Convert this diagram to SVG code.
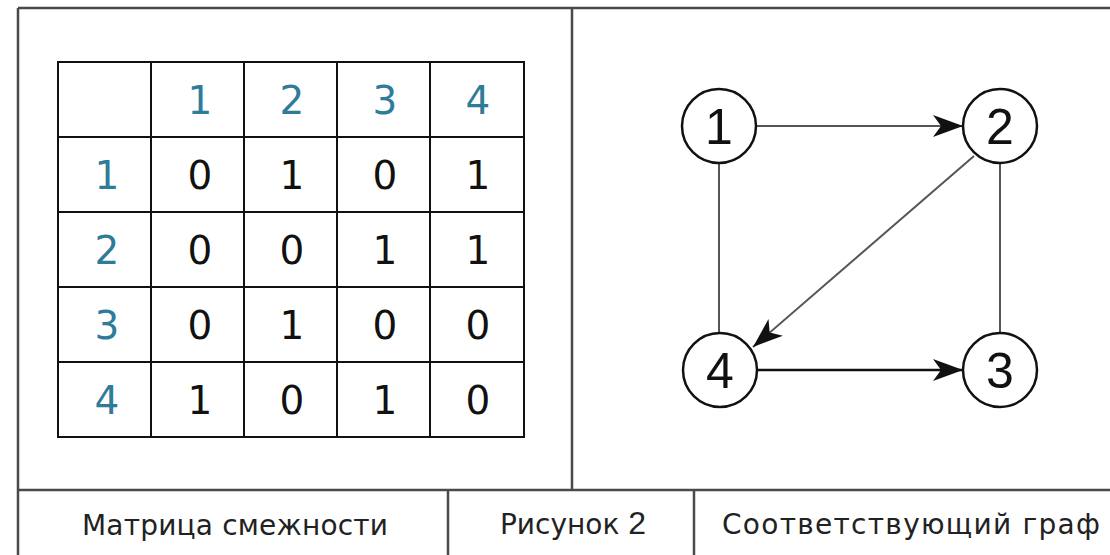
<svg xmlns="http://www.w3.org/2000/svg" width="1110" height="555" viewBox="0 0 1110 555">
  <style>
    .frame { stroke: #4a4a4a; stroke-width: 2.5; fill: none; }
    .grid { stroke: #111; stroke-width: 2; fill: none; }
    .hdr { font-family: "DejaVu Sans", sans-serif; font-size: 39px; fill: #2f7c9a; text-anchor: middle; }
    .val { font-family: "DejaVu Sans", sans-serif; font-size: 39px; fill: #111; text-anchor: middle; }
    .node circle { fill: #fff; stroke: #111; stroke-width: 2.5; }
    .node text { font-family: "Liberation Sans", Arial, sans-serif; font-size: 50px; fill: #111; text-anchor: middle; }
    .edge { stroke: #555; stroke-width: 2; fill: none; }
    .cap { font-family: "DejaVu Sans", Verdana, sans-serif; font-size: 28px; fill: #222; text-anchor: middle; }
  </style>
  <defs>
    <marker id="arrow" markerUnits="userSpaceOnUse" markerWidth="32" markerHeight="24" viewBox="0 0 32 24" refX="30" refY="12" orient="auto">
      <path d="M0,1 L30,12 L0,23 L8,12 Z" fill="#111"/>
    </marker>
  </defs>
  <rect width="1110" height="555" fill="#fff"/>

  <!-- page frame and caption row -->
  <g id="frame">
    <line class="frame" x1="18" y1="8" x2="1110" y2="8"/>
    <line class="frame" x1="18" y1="8" x2="18" y2="555"/>
    <line class="frame" x1="572" y1="8" x2="572" y2="490"/>
    <line class="frame" x1="18" y1="490" x2="1110" y2="490"/>
    <line class="frame" x1="448" y1="490" x2="448" y2="555"/>
    <line class="frame" x1="694" y1="490" x2="694" y2="555"/>
  </g>

  <!-- adjacency matrix -->
  <g id="matrix">
    <rect class="grid" x="58" y="62" width="466" height="375"/>
    <line class="grid" x1="151" y1="62" x2="151" y2="437"/>
    <line class="grid" x1="244" y1="62" x2="244" y2="437"/>
    <line class="grid" x1="337" y1="62" x2="337" y2="437"/>
    <line class="grid" x1="430" y1="62" x2="430" y2="437"/>
    <line class="grid" x1="58" y1="137" x2="524" y2="137"/>
    <line class="grid" x1="58" y1="212" x2="524" y2="212"/>
    <line class="grid" x1="58" y1="287" x2="524" y2="287"/>
    <line class="grid" x1="58" y1="362" x2="524" y2="362"/>

    <text class="hdr" x="200" y="114">1</text>
    <text class="hdr" x="292" y="114">2</text>
    <text class="hdr" x="385" y="114">3</text>
    <text class="hdr" x="478" y="114">4</text>

    <text class="hdr" x="107" y="189">1</text>
    <text class="hdr" x="107" y="264">2</text>
    <text class="hdr" x="107" y="339">3</text>
    <text class="hdr" x="107" y="414">4</text>

    <text class="val" x="200" y="189">0</text>
    <text class="val" x="292" y="189">1</text>
    <text class="val" x="385" y="189">0</text>
    <text class="val" x="478" y="189">1</text>

    <text class="val" x="200" y="264">0</text>
    <text class="val" x="292" y="264">0</text>
    <text class="val" x="385" y="264">1</text>
    <text class="val" x="478" y="264">1</text>

    <text class="val" x="200" y="339">0</text>
    <text class="val" x="292" y="339">1</text>
    <text class="val" x="385" y="339">0</text>
    <text class="val" x="478" y="339">0</text>

    <text class="val" x="200" y="414">1</text>
    <text class="val" x="292" y="414">0</text>
    <text class="val" x="385" y="414">1</text>
    <text class="val" x="478" y="414">0</text>
  </g>

  <!-- graph edges -->
  <g id="edges">
    <line class="edge" x1="757" y1="126" x2="963" y2="126" marker-end="url(#arrow)"/>
    <line class="edge" x1="719" y1="163" x2="719" y2="333"/>
    <line class="edge" x1="1000" y1="163" x2="1000" y2="333"/>
    <line class="edge" x1="974" y1="156" x2="753" y2="347" marker-end="url(#arrow)"/>
    <line class="edge" x1="757" y1="370" x2="963" y2="370" style="stroke:#111;stroke-width:2.5" marker-end="url(#arrow)"/>
  </g>

  <!-- graph nodes -->
  <g id="node1" class="node">
    <circle cx="719" cy="126" r="37"/>
    <text x="719" y="144">1</text>
  </g>
  <g id="node2" class="node">
    <circle cx="1000" cy="126" r="37"/>
    <text x="1000" y="144">2</text>
  </g>
  <g id="node3" class="node">
    <circle cx="1000" cy="370" r="37"/>
    <text x="1000" y="388">3</text>
  </g>
  <g id="node4" class="node">
    <circle cx="720" cy="370" r="37"/>
    <text x="720" y="388">4</text>
  </g>

  <!-- captions -->
  <g id="captions">
    <text class="cap" x="235" y="535" textLength="306">Матрица смежности</text>
    <text class="cap" x="573" y="534">Рисунок <tspan style="font-family:'Liberation Sans',Arial,sans-serif;font-size:32px">2</tspan></text>
    <text class="cap" x="911" y="534" textLength="378">Соответствующий граф</text>
  </g>
</svg>
